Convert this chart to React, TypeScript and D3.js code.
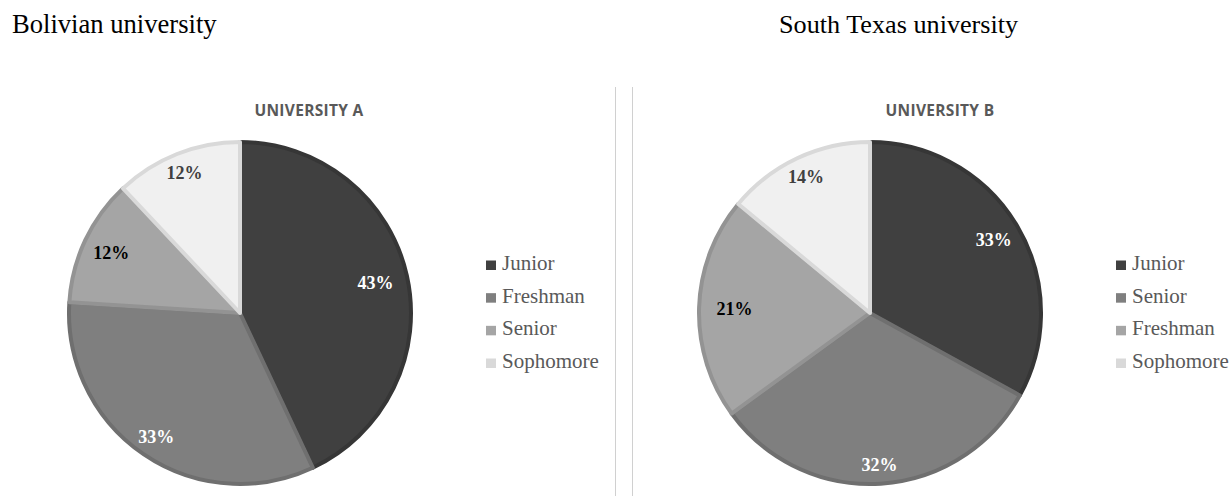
import React from "react";
import * as d3 from "d3";

const pageTitles = ["Bolivian university", "South Texas university"];
const chartTitles = ["UNIVERSITY A", "UNIVERSITY B"];
const categoriesA = ["Junior", "Freshman", "Senior", "Sophomore"];
const valuesA = [43, 33, 12, 12];
const categoriesB = ["Junior", "Senior", "Freshman", "Sophomore"];
const valuesB = [33, 32, 21, 14];

const fills = ["#404040", "#7f7f7f", "#a5a5a5", "#f0f0f0"];
const strokes = ["#363636", "#6f6f6f", "#939393", "#d9d9d9"];
const labelColors = ["#ffffff", "#ffffff", "#000000", "#404040"];

const W = 1231;
const H = 496;
const R = 171;

type PanelProps = {
  cats: string[];
  vals: number[];
  cx: number;
  cy: number;
  titleX: number;
  legendX: number;
  title: string;
};

function Panel({ cats, vals, cx, cy, titleX, legendX, title }: PanelProps) {
  const pie = d3
    .pie<number>()
    .sort(null)
    .value((d) => d)
    .startAngle(0)
    .endAngle(2 * Math.PI);
  const arcs = pie(vals);
  const arc = d3.arc<d3.PieArcDatum<number>>().innerRadius(0).outerRadius(R);
  const total = d3.sum(vals);
  const legendY = d3.scalePoint<number>().domain(d3.range(cats.length)).range([270, 368]);
  return (
    <g>
      <text
        x={titleX}
        y={116}
        textAnchor="middle"
        fontFamily="'Open Sans', sans-serif"
        fontWeight={700}
        fontSize={15.5}
        fill="#595959"
        letterSpacing={0.3}
      >
        {title}
      </text>
      <g transform={`translate(${cx},${cy})`}>
        {arcs.map((a, i) => (
          <path key={i} d={arc(a) || ""} fill={fills[i]} stroke={strokes[i]} strokeWidth={4} strokeLinejoin="round" />
        ))}
        {arcs.map((a, i) => {
          const mid = (a.startAngle + a.endAngle) / 2;
          const lr = R * (0.79 + 0.1 * Math.abs(Math.cos(mid)));
          const x = lr * Math.sin(mid);
          const y = -lr * Math.cos(mid);
          return (
            <text
              key={"l" + i}
              x={x}
              y={y}
              dy="0.35em"
              textAnchor="middle"
              fontFamily="'Liberation Serif', 'Times New Roman', serif"
              fontWeight={700}
              fontSize={18}
              fill={labelColors[i]}
            >
              {Math.round((vals[i] / total) * 100)}%
            </text>
          );
        })}
      </g>
      {cats.map((c, i) => (
        <g key={"g" + i}>
          <rect x={legendX} y={legendY(i)! - 9.5} width={10} height={9.5} fill={fills[i] === "#f0f0f0" ? "#d9d9d9" : fills[i]} />
          <text
            x={legendX + 16}
            y={legendY(i)}
            fontFamily="'Liberation Serif', 'Times New Roman', serif"
            fontSize={21}
            fill="#595959"
          >
            {c}
          </text>
        </g>
      ))}
    </g>
  );
}

export default function App() {
  return (
    <svg
      width={W}
      height={H}
      style={{ position: "absolute", left: 0, top: 0, background: "#ffffff" }}
    >
      <rect x={0} y={0} width={W} height={H} fill="#ffffff" />
      <text x={12} y={33} fontFamily="'Liberation Serif', 'Times New Roman', serif" fontSize={26.6} fill="#000">
        {pageTitles[0]}
      </text>
      <text x={779} y={33} fontFamily="'Liberation Serif', 'Times New Roman', serif" fontSize={26.2} fill="#000">
        {pageTitles[1]}
      </text>
      <line x1={615.5} x2={615.5} y1={87} y2={H} stroke="#d0d0d0" strokeWidth={1} />
      <line x1={632.5} x2={632.5} y1={87} y2={H} stroke="#d0d0d0" strokeWidth={1} />
      <Panel cats={categoriesA} vals={valuesA} cx={240} cy={313} titleX={309} legendX={486} title={chartTitles[0]} />
      <Panel cats={categoriesB} vals={valuesB} cx={870} cy={313} titleX={940} legendX={1116} title={chartTitles[1]} />
    </svg>
  );
}
